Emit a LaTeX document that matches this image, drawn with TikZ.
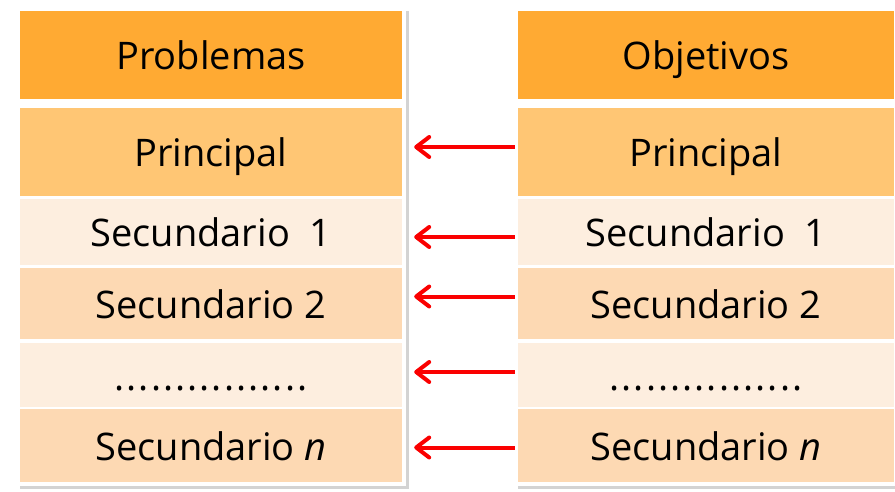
\documentclass[tikz,border=0pt]{standalone}
\usepackage{fontspec}
\setmainfont{Open Sans}
\usetikzlibrary{arrows.meta, positioning, shadows}
\definecolor{HeadOrange}{RGB}{255, 170, 51}
\definecolor{MainOrange}{RGB}{255, 198, 116}
\definecolor{RowDark}{RGB}{253, 217, 179}
\definecolor{RowLight}{RGB}{253, 238, 223}
\definecolor{ArrowRed}{RGB}{250, 0, 0}
\newcommand{\dotline}{\hbox to 193pt{.\hfil.\hfil.\hfil.\hfil.\hfil.\hfil.\hfil.\hfil.\hfil.\hfil.\hfil.\hfil.\hfil.\hfil.\hfil.}}

\begin{document}
\begin{tikzpicture}[
        x=1pt, y=-1pt,
        cell/.style={rectangle, draw=none, inner sep=0pt, minimum width=382pt, text height=34pt, text depth=4pt, font=\fontsize{38}{41}\selectfont},
        rcell/.style={cell, minimum width=376pt},
        arrow/.style={-{Straight Barb[round, length=13pt, width=20pt]}, line width=4pt, ArrowRed, shorten <=3pt, shorten >=12pt}
    ]
        \useasboundingbox (0,0) rectangle (895,492);

        % Frames
        \fill[white, drop shadow={shadow xshift=3pt, shadow yshift=-3pt, opacity=0.35}] (17,8) rectangle (406,486);
        \fill[white, drop shadow={shadow xshift=3pt, shadow yshift=-3pt, opacity=0.35}] (515,8) rectangle (905,486);

        % Problemas
        \node[cell, fill=HeadOrange, minimum height=88pt] (ph) at (211,55) {Problemas};
        \node[cell, fill=MainOrange, minimum height=88pt] (p0) at (211,152) {Principal};
        \node[cell, fill=RowLight, minimum height=66pt] (p1) at (211,232) {Secundario\ \ 1};
        \node[cell, fill=RowDark, minimum height=71pt] (p2) at (211,303.5) {Secundario 2};
        \node[cell, fill=RowLight, minimum height=64pt] (pd) at (211,375) {\dotline};
        \node[cell, fill=RowDark, minimum height=73pt] (pn) at (211,445.5) {Secundario \textit{n}};

        % Objetivos
        \node[rcell, fill=HeadOrange, minimum height=88pt] (oh) at (706,55) {Objetivos};
        \node[rcell, fill=MainOrange, minimum height=88pt] (o0) at (706,152) {Principal};
        \node[rcell, fill=RowLight, minimum height=66pt] (o1) at (706,232) {Secundario\ \ 1};
        \node[rcell, fill=RowDark, minimum height=71pt] (o2) at (706,303.5) {Secundario 2};
        \node[rcell, fill=RowLight, minimum height=64pt] (od) at (706,375) {\dotline};
        \node[rcell, fill=RowDark, minimum height=73pt] (on) at (706,445.5) {Secundario \textit{n}};

        % Arrows
        \draw[arrow] ([yshift=5pt]o0.west) -- ([yshift=5pt]p0.east);
        \draw[arrow] ([yshift=-5pt]o1.west) -- ([yshift=-5pt]p1.east);
        \draw[arrow] ([yshift=7pt]o2.west) -- ([yshift=7pt]p2.east);
        \draw[arrow] ([yshift=3pt]od.west) -- ([yshift=3pt]pd.east);
        \draw[arrow] ([yshift=-2pt]on.west) -- ([yshift=-2pt]pn.east);

    \end{tikzpicture}
\end{document}
